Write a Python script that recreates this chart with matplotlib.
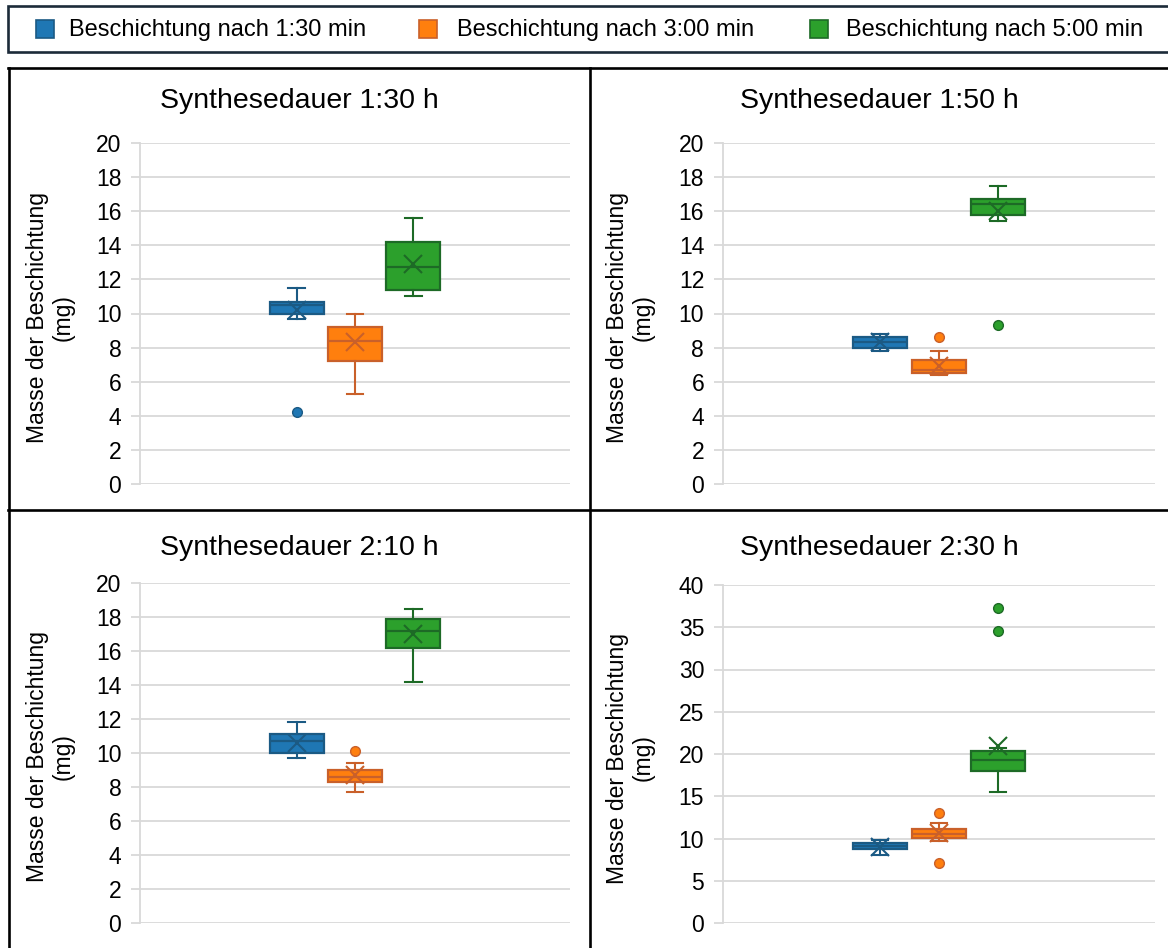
import matplotlib
matplotlib.use("Agg")
import matplotlib.pyplot as plt
from matplotlib.lines import Line2D
from matplotlib.patches import Rectangle

plt.rcParams['font.family'] = ['Liberation Sans', 'DejaVu Sans']

# ---------------- data ----------------
panel_titles = ["Synthesedauer 1:30 h", "Synthesedauer 1:50 h",
                "Synthesedauer 2:10 h", "Synthesedauer 2:30 h"]
series_names = ["Beschichtung nach 1:30 min", "Beschichtung nach 3:00 min",
                "Beschichtung nach 5:00 min"]
y_label = "Masse der Beschichtung\n(mg)"

# rows: panels, columns: series
whislo = [[9.7, 5.3, 11.0], [7.8, 6.4, 15.4], [9.7, 7.7, 14.2], [8.1, 9.7, 15.5]]
q1     = [[10.0, 7.2, 11.4], [8.0, 6.5, 15.75], [10.0, 8.3, 16.2], [8.8, 10.1, 18.0]]
med    = [[10.5, 8.4, 12.7], [8.3, 6.7, 16.4], [10.7, 8.6, 17.2], [9.1, 10.5, 19.3]]
q3     = [[10.7, 9.2, 14.2], [8.65, 7.3, 16.7], [11.1, 9.0, 17.9], [9.45, 11.1, 20.3]]
whishi = [[11.5, 10.0, 15.6], [8.8, 7.8, 17.5], [11.8, 9.4, 18.5], [9.8, 11.8, 20.7]]
means  = [[10.2, 8.3, 12.9], [8.3, 6.9, 16.0], [10.6, 8.7, 17.0], [9.0, 10.7, 20.9]]
fliers = [[[4.2], [], []],
          [[], [8.6], [9.3]],
          [[], [10.1], []],
          [[], [13.0, 7.1], [37.3, 34.5]]]

y_max = [20, 20, 20, 40]
y_step = [2, 2, 2, 5]

fill_colors = ["#1f77b4", "#ff7f0e", "#2ca02c"]
edge_colors = ["#1b5a84", "#c9602a", "#1d6a26"]

# ---------------- layout ----------------
W, H = 1168, 948
fig = plt.figure(figsize=(W / 100, H / 100), dpi=100)

def fx(px):
    return px / W

def fy(py):
    return 1 - py / H

axes_px = [  # left, right, top(px of max), bottom(px of 0)
    (140, 570, 143, 484),
    (723, 1155, 143, 484),
    (140, 570, 583, 923),
    (723, 1155, 585, 923),
]

offsets = [-0.136, 0.0, 0.136]
box_w = 0.1256
cap_w = 0.038

for i, (l, r, t, b) in enumerate(axes_px):
    ax = fig.add_axes([fx(l), fy(b), (r - l) / W, (b - t) / H])
    ax.set_xlim(0, 1)
    ax.set_ylim(0, y_max[i])
    ax.set_yticks(range(0, y_max[i] + 1, y_step[i]))
    ax.yaxis.grid(True, color="#d9d9d9", linewidth=1.3)
    ax.set_axisbelow(True)
    ax.set_xticks([])
    for s in ["top", "right", "bottom"]:
        ax.spines[s].set_visible(False)
    ax.spines["left"].set_color("#d9d9d9")
    ax.spines["left"].set_linewidth(1.3)
    ax.tick_params(axis="y", direction="out", length=6.5, width=1.3,
                   color="#d9d9d9", labelsize=16.5, pad=7, labelcolor="black")
    for j in range(3):
        st = [{
            "whislo": whislo[i][j], "q1": q1[i][j], "med": med[i][j],
            "q3": q3[i][j], "whishi": whishi[i][j], "mean": means[i][j],
            "fliers": fliers[i][j], "label": series_names[j],
        }]
        ec = edge_colors[j]
        ax.bxp(st, positions=[0.5 + offsets[j]], widths=box_w,
               capwidths=cap_w, patch_artist=True, showmeans=True,
               showfliers=True, manage_ticks=False,
               boxprops=dict(facecolor=fill_colors[j], edgecolor=ec, linewidth=1.6),
               whiskerprops=dict(color=ec, linewidth=1.5),
               capprops=dict(color=ec, linewidth=1.5),
               medianprops=dict(color=ec, linewidth=1.6),
               meanprops=dict(marker="x", markeredgecolor=ec, markersize=13,
                              markeredgewidth=1.5, linestyle="none"),
               flierprops=dict(marker="o", markerfacecolor=fill_colors[j],
                               markeredgecolor=ec, markersize=7,
                               markeredgewidth=1.0, linestyle="none"))
    # title
    pcx = 299 if i in (0, 2) else 879
    pty = 101 if i < 2 else 548
    fig.text(fx(pcx), fy(pty), panel_titles[i], ha="center", va="center",
             fontsize=20.5)
    # y label
    lcx = 50 if i in (0, 2) else 630
    lcy = (t + b) / 2 + 4
    fig.text(fx(lcx), fy(lcy), y_label, ha="center", va="center",
             rotation=90, fontsize=16.5, multialignment="center",
             linespacing=1.15)

# ---------------- panel borders ----------------
bc = "black"
blw = 1.9
fig.add_artist(Line2D([fx(8), fx(1168)], [fy(68), fy(68)], color=bc, lw=blw))
fig.add_artist(Line2D([fx(8), fx(1168)], [fy(510), fy(510)], color=bc, lw=blw))
fig.add_artist(Line2D([fx(8.5), fx(8.5)], [fy(68), fy(948)], color=bc, lw=blw))
fig.add_artist(Line2D([fx(590), fx(590)], [fy(68), fy(948)], color=bc, lw=blw))

# ---------------- legend ----------------
fig.add_artist(Rectangle((fx(8), fy(52)), fx(1170) - fx(8), fy(6) - fy(52),
                         facecolor="white", edgecolor="#1c2b39", lw=1.9,
                         transform=fig.transFigure))
leg_sq_x = [36, 419, 810]
leg_tx_x = [69, 457, 846]
for j in range(3):
    fig.add_artist(Rectangle((fx(leg_sq_x[j]), fy(38)), 18 / W, 18 / H,
                             facecolor=fill_colors[j], edgecolor=edge_colors[j],
                             lw=1.2, transform=fig.transFigure))
    fig.text(fx(leg_tx_x[j]), fy(30), series_names[j], ha="left",
             va="center", fontsize=17)

fig.savefig("out.png", dpi=100)
